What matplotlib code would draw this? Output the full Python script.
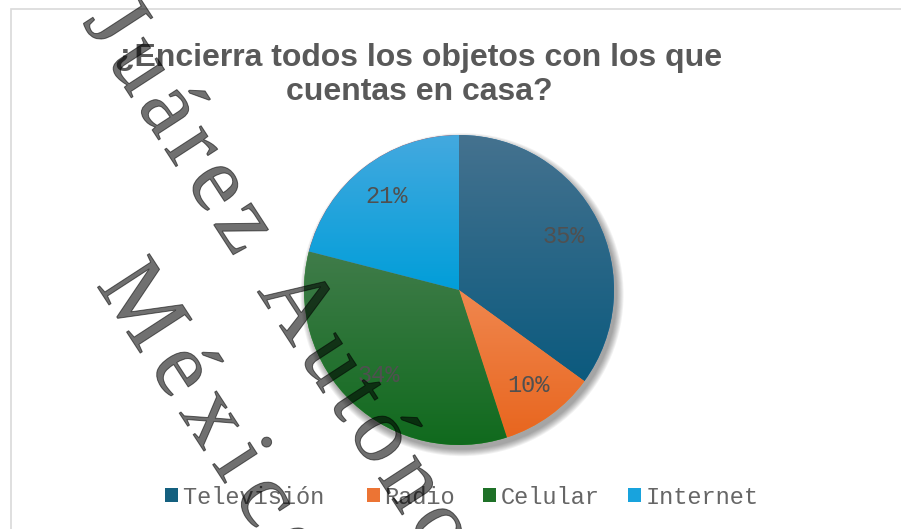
import matplotlib
matplotlib.use("Agg")
import matplotlib.pyplot as plt
import numpy as np
from matplotlib.patches import Patch, Rectangle, Circle
from matplotlib.colors import LinearSegmentedColormap
from matplotlib import font_manager, ft2font
import matplotlib.patheffects as pe

# datos
categorias = ["Televisión", "Radio", "Celular", "Internet"]
porcentajes = [35, 10, 34, 21]
colores_arriba = ["#45728f", "#f0874f", "#407c4a", "#44a9df"]
colores_abajo = ["#0b5a7e", "#e8661f", "#106a1d", "#019ed9"]
colores_leyenda = ["#14607f", "#ec7434", "#1f7128", "#18a3dd"]
titulo1 = "¿Encierra todos los objetos con los que"
titulo2 = "cuentas en casa?"
marca1 = "Juárez Autónoma"
marca2 = "México"

W, H = 901, 529
fig = plt.figure(figsize=(W / 100, H / 100), dpi=100)
fig.patch.set_facecolor("white")

# marco del grafico
fig.patches.append(Rectangle((11 / W, -0.1), 1.2, 1 - 9 / H + 0.1, transform=fig.transFigure,
                             fill=False, edgecolor="#d9d9d9", linewidth=1.2, zorder=-3))

# titulo
fig.text(419 / W, 1 - 58 / H, titulo1, ha="center", va="center", fontsize=23,
         fontweight="bold", color="#595959", family="Liberation Sans")
fig.text(419 / W, 1 - 92 / H, titulo2, ha="center", va="center", fontsize=23,
         fontweight="bold", color="#595959", family="Liberation Sans")

# pastel
cx, cy, r = 459, 290, 155
m = 1.1
ax = fig.add_axes([(cx - m * r) / W, (H - cy - m * r) / H, 2 * m * r / W, 2 * m * r / H])
wedges, textos, pcts = ax.pie(porcentajes, startangle=90, counterclock=False,
                              autopct="%.0f%%", pctdistance=0.76,
                              wedgeprops=dict(linewidth=0),
                              textprops=dict(family="Liberation Mono", fontsize=17, color="#505050"))

# sombra
for i in range(8):
    ax.add_patch(Circle((0.02, -0.03), 1.0 + 0.006 * i, facecolor="black",
                        alpha=0.05, zorder=0, linewidth=0))

# degradado en cada rebanada
for w, c0, c1 in zip(wedges, colores_arriba, colores_abajo):
    v = w.get_patch_transform().transform(w.get_path().vertices)
    x0, x1 = v[:, 0].min(), v[:, 0].max()
    y0, y1 = v[:, 1].min(), v[:, 1].max()
    cmap = LinearSegmentedColormap.from_list("g", [c1, c0])
    grad = np.linspace(0, 1, 256).reshape(-1, 1)
    im = ax.imshow(grad, extent=[x0, x1, y0, y1], origin="lower", cmap=cmap,
                   aspect="auto", zorder=1.5)
    im.set_clip_path(w)
for t in pcts:
    t.set_zorder(3)

ax.set_xlim(-m, m)
ax.set_ylim(-m, m)
ax.set_aspect("auto")
ax.axis("off")
ax.patch.set_visible(False)

# leyenda
handles = [Patch(facecolor=c, edgecolor="none") for c in colores_leyenda]
etiquetas = [categorias[0] + "\u00a0"] + categorias[1:]
fig.legend(handles, etiquetas, loc="center", bbox_to_anchor=(462 / W, 1 - 497 / H),
           ncol=4, frameon=False, handlelength=0.55, handleheight=0.55,
           handletextpad=0.2, columnspacing=1.2,
           prop=dict(family="Liberation Mono", size=17), labelcolor="#666666")

# marca de agua (letra por letra, con espaciado extra), translucida encima de todo
tam = 68
ang = 57
ruta = font_manager.findfont(font_manager.FontProperties(family="Liberation Serif"))
ft = ft2font.FT2Font(ruta)
ft.set_size(tam, 100)
d = np.array([np.cos(np.radians(ang)), np.sin(np.radians(ang))])  # direccion en pixeles (abajo-derecha)


def marca(texto, x, y, track):
    p = np.array([x, y], dtype=float)
    for ch in texto:
        fig.text(p[0] / W, 1 - p[1] / H, ch, rotation=-ang, rotation_mode="anchor",
                 ha="left", va="baseline", fontsize=tam, family="Liberation Serif",
                 color="black", alpha=0.56, zorder=10,
                 path_effects=[pe.Stroke(linewidth=0.7, foreground="black", alpha=0.56)])
        adv = ft.load_char(ord(ch)).linearHoriAdvance / 65536
        p = p + d * (adv + track)


marca(marca1, 82, 22, 8)
marca(marca2, 96, 285, 13)

fig.savefig("out.png", dpi=100)
